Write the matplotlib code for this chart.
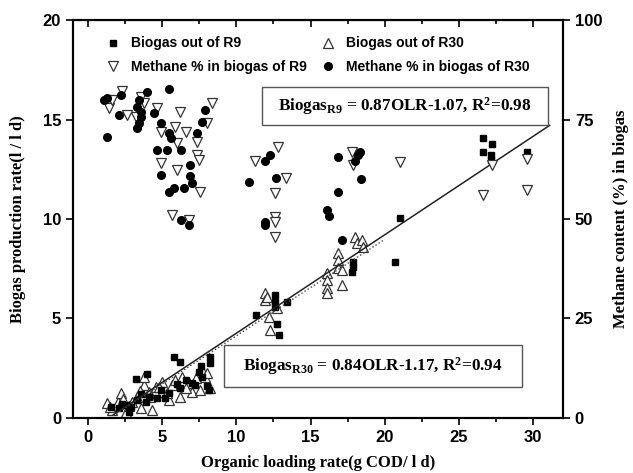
import numpy as np
import matplotlib
matplotlib.use('Agg')
import matplotlib.pyplot as plt
from matplotlib.patches import Rectangle
from matplotlib.ticker import MultipleLocator

plt.rcParams['mathtext.fontset'] = 'custom'
plt.rcParams['mathtext.rm'] = 'Liberation Serif:bold'
plt.rcParams['mathtext.it'] = 'Liberation Serif:bold'
plt.rcParams['mathtext.bf'] = 'Liberation Serif:bold'

# biogas out of R9 (l/l d) vs OLR
r9_olr = [1.54, 2.1, 2.3, 2.55, 2.77, 2.9, 3.22, 3.33, 3.6, 3.9, 4.0, 4.11, 4.68, 4.9, 5.2,
          5.46, 5.79, 6.0, 6.2, 6.24, 6.58, 7.03, 7.25, 7.47, 7.6, 7.7, 8.0, 8.14, 8.26, 8.26,
          11.34, 12.6, 12.6, 12.6, 12.77, 12.89, 13.4, 17.76, 17.87, 17.87,
          20.67, 21.0, 26.6, 26.6, 27.2, 27.16, 27.16, 29.6]
r9_gas = [0.57, 0.49, 0.7, 0.65, 0.32, 0.55, 1.94, 0.9, 1.2, 0.8, 2.2, 1.07, 0.99, 1.41, 1.0,
          1.24, 3.08, 1.7, 2.83, 1.49, 1.91, 1.74, 1.66, 2.33, 2.6, 2.08, 1.6, 1.41, 3.08, 2.76,
          5.18, 6.18, 5.85, 5.6, 4.72, 4.17, 5.85, 7.35, 7.85, 7.6,
          7.85, 10.03, 14.05, 13.38, 13.75, 13.2, 12.96, 13.38]

# biogas out of R30
r30_olr = [1.32, 1.66, 2.0, 2.2, 2.55, 3.0, 3.33, 3.56, 3.78, 3.78, 4.11, 4.34, 4.56, 5.0, 5.0,
           5.46, 5.68, 5.9, 6.24, 6.35, 6.8, 7.03, 7.58, 7.7, 7.92, 8.26,
           1.5, 2.4, 2.8, 3.5, 4.2, 4.8, 5.3, 6.6, 7.3, 8.0,
           11.95, 11.95, 12.06, 12.73, 12.17, 12.28, 16.09, 16.09, 16.09, 16.09, 17.09,
           16.87, 16.87, 16.87, 17.09, 17.99, 18.1, 18.44, 18.55]
r30_gas = [0.74, 0.4, 0.82, 1.24, 0.32, 0.82, 1.07, 0.49, 1.66, 2.08, 1.32, 0.4, 1.57, 1.82, 1.32,
           0.9, 1.66, 1.91, 1.07, 2.08, 1.74, 1.32, 1.41, 2.41, 2.08, 1.49,
           0.55, 0.95, 0.6, 1.35, 1.05, 1.55, 1.25, 1.5, 2.0, 2.25,
           6.27, 5.93, 6.1, 5.51, 5.09, 4.42, 7.27, 6.94, 6.52, 6.27, 6.68,
           8.28, 7.94, 7.52, 7.44, 9.11, 8.78, 8.94, 8.61]

# methane % in biogas of R9
ch4_r9_olr = [1.43, 1.66, 2.33, 2.66, 3.22, 3.56, 3.78, 4.68, 4.9, 5.9, 6.24, 6.58, 6.0, 7.36,
              8.03, 8.37, 4.9, 6.02, 7.36, 7.47, 5.68, 6.8, 7.58,
              11.28, 12.84, 13.36, 12.6, 12.6, 12.6, 12.6,
              17.76, 17.87, 21.0, 27.2, 26.6, 29.6, 29.6]
ch4_r9 = [77.8, 79.9, 82.2, 76.1, 75.7, 80.7, 79.1, 77.8, 71.9, 73.2, 77.0, 71.9, 69.0, 69.4,
          74.0, 79.1, 64.0, 62.3, 66.1, 64.8, 51.0, 49.7, 56.9,
          64.6, 68.2, 60.4, 56.5, 50.6, 49.3, 45.4,
          66.9, 63.6, 64.4, 63.6, 56.0, 65.2, 57.3]

# methane % in biogas of R30
ch4_r30_olr = [1.1, 1.32, 1.32, 2.21, 2.1, 3.33, 3.44, 3.56, 3.56, 3.44, 3.33, 4.0, 4.45, 4.9,
               5.46, 5.46, 5.57, 7.36, 7.7, 7.92, 4.68, 5.35, 6.3, 6.91, 4.95, 6.91,
               5.46, 5.79, 6.46, 7.03, 6.29, 6.8,
               10.83, 11.95, 12.28, 12.68, 11.95, 11.95,
               16.09, 16.26, 16.87, 16.87, 17.99, 18.3, 18.2, 18.4, 17.09]
ch4_r30 = [79.9, 80.3, 70.7, 81.2, 76.1, 78.2, 79.9, 77.0, 75.7, 74.0, 72.8, 82.0, 76.6, 74.0,
           82.6, 71.5, 70.3, 71.5, 74.4, 77.4, 67.3, 67.3, 67.3, 63.6, 61.1, 60.8,
           56.9, 57.7, 57.7, 59.0, 49.7, 48.5,
           59.2, 64.5, 66.2, 60.2, 49.3, 48.5,
           52.3, 50.8, 56.7, 65.7, 64.6, 66.9, 66.1, 60.1, 44.8]

# fitted lines as drawn (slope, intercept, x range)
fit_r9 = (0.495, -0.69, 1.7, 31.1)
fit_r30 = (0.485, -0.72, 1.5, 20.0)

eq_r9 = 'Biogas$_{\\mathrm{R9}}$ = 0.87OLR-1.07, R$^{\\mathrm{2}}$=0.98'
eq_r30 = 'Biogas$_{\\mathrm{R30}}$ = 0.84OLR-1.17, R$^{\\mathrm{2}}$=0.94'

fig = plt.figure(figsize=(6.33, 4.73), dpi=100)
ax = fig.add_axes([0.1153, 0.1163, 0.8894 - 0.1153, 0.9577 - 0.1163])
ax2 = ax.twinx()

h1, = ax.plot(r9_olr, r9_gas, 's', color='black', ms=5, mec='black', zorder=4,
              label='Biogas out of R9')
h3, = ax.plot(r30_olr, r30_gas, '^', mfc='white', mec='#333333', ms=7, mew=0.9, zorder=3,
              label='Biogas out of R30')
h2, = ax2.plot(ch4_r9_olr, ch4_r9, 'v', mfc='white', mec='#333333', ms=7.5, mew=0.9,
               label='Methane % in biogas of R9')
h4, = ax2.plot(ch4_r30_olr, ch4_r30, 'o', color='black', ms=5.5,
               label='Methane % in biogas of R30')

xs = np.linspace(fit_r9[2], fit_r9[3], 50)
ax.plot(xs, fit_r9[0] * xs + fit_r9[1], '-', color='#222222', lw=1.1, zorder=5)
xs = np.linspace(fit_r30[2], fit_r30[3], 50)
ax.plot(xs, fit_r30[0] * xs + fit_r30[1], ':', color='#444444', lw=1.0, zorder=5)

ax.set_xlim(-1, 32)
ax.set_ylim(0, 20)
ax2.set_ylim(0, 100)
ax.xaxis.set_major_locator(MultipleLocator(5))
ax.xaxis.set_minor_locator(MultipleLocator(2.5))
ax.yaxis.set_major_locator(MultipleLocator(5))
ax2.yaxis.set_major_locator(MultipleLocator(25))

tickfont = dict(family='Liberation Sans', weight='bold', size=12)
for a in (ax, ax2):
    for s in a.spines.values():
        s.set_linewidth(1.5)
ax.tick_params(axis='x', which='both', direction='out', width=1.2)
ax.tick_params(axis='x', which='major', length=5)
ax.tick_params(axis='x', which='minor', length=3)
ax.tick_params(axis='y', direction='out', length=5, width=1.2, right=False)
ax2.tick_params(axis='y', direction='out', length=5, width=1.2)
for lab in ax.get_xticklabels() + ax.get_yticklabels() + ax2.get_yticklabels():
    lab.set_fontproperties(tickfont)

# top ticks point inward
sec = ax.secondary_xaxis('top')
sec.xaxis.set_major_locator(MultipleLocator(5))
sec.xaxis.set_minor_locator(MultipleLocator(2.5))
sec.tick_params(which='both', direction='in', labeltop=False, width=1.2)
sec.tick_params(which='major', length=5)
sec.tick_params(which='minor', length=3)

labfont = dict(family='Liberation Serif', weight='bold', size=12)
ax.set_xlabel('Organic loading rate(g COD/ l d)', fontdict=labfont, labelpad=7)
ax.set_ylabel('Biogas production rate(l / l d)', fontdict=labfont, labelpad=12)
ax2.set_ylabel('Methane content (%) in biogas', fontdict=labfont, labelpad=8)

ax.legend(handles=[h1, h2, h3, h4], ncol=2, loc='upper left', bbox_to_anchor=(0.04, 0.99),
          frameon=False, prop=dict(family='Liberation Sans', weight='bold', size=10),
          handletextpad=0.7, columnspacing=0.9, handlelength=1.2, labelspacing=0.65)

for (x0, y0, x1, y1), eq in [((0.386, 0.736, 0.969, 0.832), eq_r9),
                             ((0.308, 0.078, 0.916, 0.183), eq_r30)]:
    ax.add_patch(Rectangle((x0, y0), x1 - x0, y1 - y0, transform=ax.transAxes, fill=True,
                           facecolor='white', edgecolor='#555555', lw=1.0, zorder=6))
    ax.text((x0 + x1) / 2, (y0 + y1) / 2, eq, transform=ax.transAxes, ha='center',
            va='center', family='Liberation Serif', weight='bold', size=12.3, zorder=7)

fig.savefig('out.png', dpi=100)
